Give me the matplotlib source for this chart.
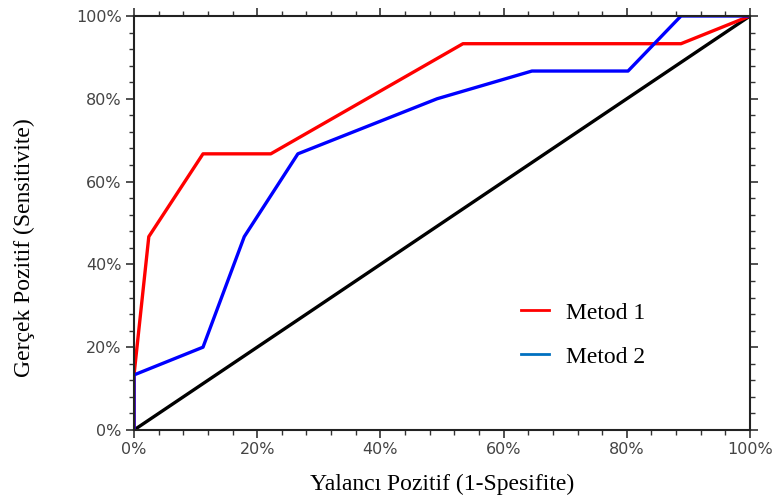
import numpy as np
import matplotlib
matplotlib.use("Agg")
import matplotlib.pyplot as plt
from matplotlib.lines import Line2D
from matplotlib.ticker import MultipleLocator, PercentFormatter

# ROC egrileri (x: 1-spesifite, y: sensitivite)
m1_x = [0.0, 0.0, 0.024, 0.112, 0.222, 0.534, 0.888, 1.0]
m1_y = [0.0, 0.133, 0.467, 0.667, 0.667, 0.933, 0.933, 1.0]
m2_x = [0.0, 0.0, 0.112, 0.179, 0.266, 0.492, 0.646, 0.802, 0.888, 1.0]
m2_y = [0.0, 0.133, 0.200, 0.467, 0.667, 0.800, 0.867, 0.867, 1.0, 1.0]
ref_x = [0.0, 1.0]
ref_y = [0.0, 1.0]
labels = ['Metod 1', 'Metod 2']

fig = plt.figure(figsize=(7.72, 4.99), dpi=100)
ax = fig.add_axes([0.1736, 0.1383, 0.7979, 0.8297])

ax.plot(ref_x, ref_y, color='black', lw=2.4, solid_capstyle='butt')
ax.plot(m1_x, m1_y, color='#ff0000', lw=2.4)
ax.plot(m2_x, m2_y, color='#0000ff', lw=2.4)

ax.set_xlim(0, 1)
ax.set_ylim(0, 1)
ax.xaxis.set_major_locator(MultipleLocator(0.2))
ax.xaxis.set_minor_locator(MultipleLocator(0.04))
ax.yaxis.set_major_locator(MultipleLocator(0.2))
ax.yaxis.set_minor_locator(MultipleLocator(0.04))
ax.xaxis.set_major_formatter(PercentFormatter(1.0, decimals=0))
ax.yaxis.set_major_formatter(PercentFormatter(1.0, decimals=0))
ax.tick_params(which='both', direction='out', top=True, right=True, color='#333333',
               labeltop=False, labelright=False)
ax.tick_params(which='major', length=6, width=1.2, labelsize=11.5, labelcolor='#444444', pad=3)
ax.tick_params(which='minor', length=3.5, width=1.0)
for lab in ax.get_xticklabels() + ax.get_yticklabels():
    lab.set_fontweight('medium')
for sp in ax.spines.values():
    sp.set_linewidth(1.5)
    sp.set_color('#222222')

serif = ['Liberation Serif', 'DejaVu Serif']
ax.set_xlabel('Yalancı Pozitif (1-Spesifite)', family=serif, fontsize=17, labelpad=12)
ax.set_ylabel('Gerçek Pozitif (Sensitivite)', family=serif, fontsize=17)
ax.yaxis.set_label_coords(-0.161, 0.44)

handles = [Line2D([], [], color='#ff0000', lw=2),
           Line2D([], [], color='#0070c0', lw=2)]
ax.legend(handles, labels, loc='upper left', bbox_to_anchor=(0.594, 0.36), frameon=False,
          prop={'family': serif, 'size': 17}, handlelength=1.2, handletextpad=0.7,
          labelspacing=0.95)

fig.savefig('out.png', dpi=100)
